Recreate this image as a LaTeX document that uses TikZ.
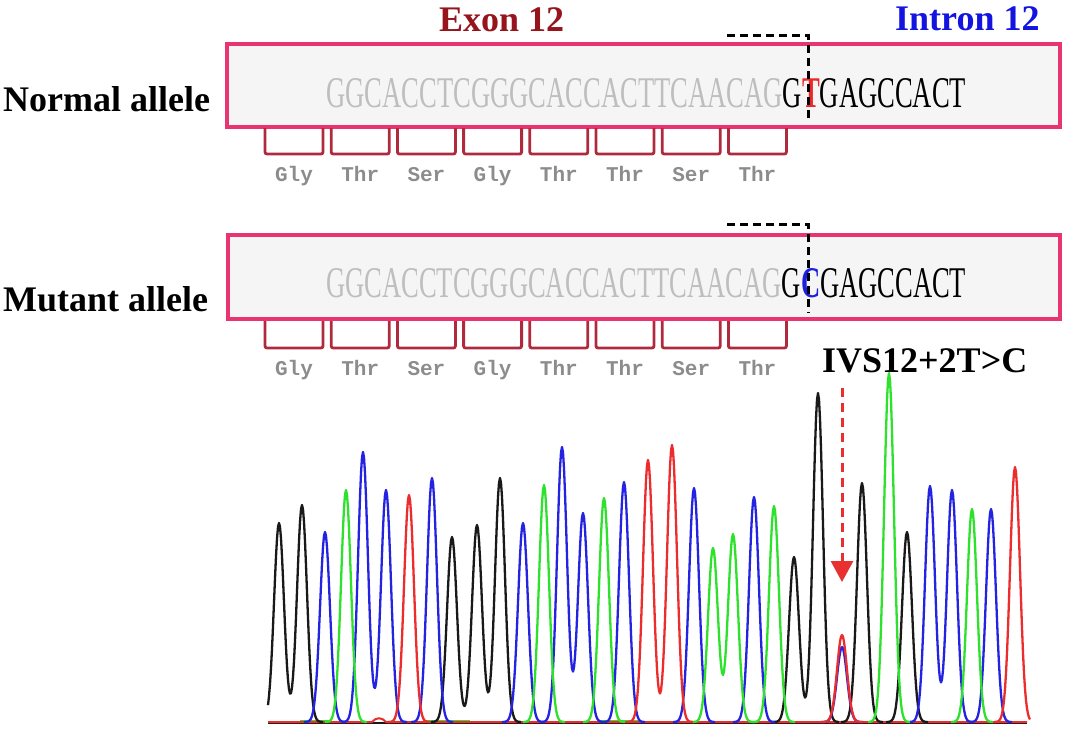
\documentclass[tikz,border=0pt]{standalone}
\usepackage{fontspec}
\setmainfont{Liberation Serif}
\newfontfamily\monof{Liberation Mono}
\usetikzlibrary{arrows.meta}
\definecolor{boxpink}{RGB}{232,52,112}
\definecolor{boxfill}{RGB}{245,245,245}
\definecolor{brk}{RGB}{176,42,62}
\definecolor{exonred}{RGB}{150,20,28}
\definecolor{intronblue}{RGB}{20,20,225}
\definecolor{seqgray}{RGB}{190,190,190}
\definecolor{aagray}{RGB}{140,140,140}
\definecolor{mutred}{RGB}{235,40,40}
\definecolor{mutblue}{RGB}{30,30,225}
\definecolor{tblack}{RGB}{25,25,25}
\definecolor{tblue}{RGB}{35,35,225}
\definecolor{tgreen}{RGB}{45,225,45}
\definecolor{tred}{RGB}{235,45,45}
\definecolor{arrred}{RGB}{232,48,48}
\begin{document}
\begin{tikzpicture}[x=1pt,y=-1pt,
  declare function={pk(\t,\c,\h)=\h*exp(-min(((\t-\c)/7)*((\t-\c)/7),9));},
  title/.style={font=\fontsize{36}{36}\selectfont\bfseries, inner sep=0pt, anchor=base west},
  allelebox/.style={draw=boxpink, line width=3.2pt, fill=boxfill, inner sep=0pt},
  seqtext/.style={inner sep=0pt, anchor=base west, text=black, font=\fontsize{40}{40}\selectfont},
  splitline/.style={draw=black, line width=3pt, dash pattern=on 8pt off 5pt},
  codon/.style={draw=brk, line width=2.8pt, rounded corners=2pt},
  aa/.style={inner sep=0pt, anchor=base, text=aagray, font=\monof\bfseries\fontsize{21}{21}\selectfont},
  trace/.style={line width=2.3pt, line join=round},
]
\useasboundingbox (0,0) rectangle (1065,731);

% titles
\node[title, text=exonred] (exon) at (439,31) {Exon 12};
\node[title, text=intronblue] (intron) at (895,30) {Intron 12};
\node[title] (normal) at (3,111) {Normal allele};
\node[title] (mutant) at (3,311) {Mutant allele};
\node[title] (ivs) at (822,372) {IVS12+2T>C};

% allele boxes
\node[allelebox, minimum width=833pt, minimum height=83pt] (box1) at (643.5,85.5) {};
\node[allelebox, minimum width=832pt, minimum height=84pt] (box2) at (644,277) {};

\node[seqtext] (seq1) at (326,107) {\resizebox{640pt}{29pt}{{\color{seqgray}GGCACCTCGGGCACCACTTCAACAG}G{\color{mutred}\bfseries T}GAGCCACT}};
\node[seqtext] (seq2) at (326,297) {\resizebox{640pt}{29pt}{{\color{seqgray}GGCACCTCGGGCACCACTTCAACAG}G{\color{mutblue}\bfseries C}GAGCCACT}};

% splice-site markers
\coordinate (d1a) at (727,35);
\coordinate (d1b) at (808,35);
\coordinate (d1c) at (808,120);
\draw[splitline] (d1a) -- (d1b) -- (d1c);
\coordinate (d2a) at (727,224);
\coordinate (d2b) at (808,224);
\coordinate (d2c) at (808,313);
\draw[splitline] (d2a) -- (d2b) -- (d2c);

% codon brackets and amino acids
\foreach \i in {0,...,7} {
  \draw[codon] ({265+66.2*\i},128) -- ++(0,26) -- ++(58,0) -- ++(0,-26);
  \draw[codon] ({265+66.2*\i},321) -- ++(0,27) -- ++(58,0) -- ++(0,-27);
}
\foreach \a [count=\i from 0] in {Gly,Thr,Ser,Gly,Thr,Thr,Ser,Thr} {
  \node[aa] (aaN\i) at ({294+66.2*\i},181) {\a};
  \node[aa] (aaM\i) at ({294+66.2*\i},375) {\a};
}

% chromatogram baseline
\draw[tblack, line width=2pt] (268,723) -- (1027,723);
\draw[tgreen, line width=1.6pt] (300,721) -- (330,721) (425,721) -- (470,721) (600,721) -- (640,721);
\draw[tred, line width=2pt] (268,722) -- (372,722) .. controls (376,717) and (382,717) .. (386,722) -- (1027,722);

% black trace
\draw[trace, tblack] plot[domain=268:323, samples=56] (\x,{722-pk(\x,279,199)-pk(\x,302,217)});
\draw[trace, tblack] plot[domain=431:521, samples=91] (\x,{722-pk(\x,452,185)-pk(\x,477,197)-pk(\x,500,244)});
\draw[trace, tblack] plot[domain=773:839, samples=67] (\x,{722-pk(\x,794,165)-pk(\x,818,329)});
\draw[trace, tblack] plot[domain=841:883, samples=43] (\x,{722-pk(\x,862,239)});
\draw[trace, tblack] plot[domain=886:928, samples=43] (\x,{722-pk(\x,907,190)});
% blue trace
\draw[trace, tblue] plot[domain=304:346, samples=43] (\x,{722-pk(\x,325,190)});
\draw[trace, tblue] plot[domain=342:407, samples=66] (\x,{722-pk(\x,363,270)-pk(\x,386,232)});
\draw[trace, tblue] plot[domain=411:453, samples=43] (\x,{722-pk(\x,432,244)});
\draw[trace, tblue] plot[domain=502:544, samples=43] (\x,{722-pk(\x,523,199)});
\draw[trace, tblue] plot[domain=541:604, samples=64] (\x,{722-pk(\x,562,275)-pk(\x,583,209)});
\draw[trace, tblue] plot[domain=603:645, samples=43] (\x,{722-pk(\x,624,240)});
\draw[trace, tblue] plot[domain=673:715, samples=43] (\x,{722-pk(\x,694,234)});
\draw[trace, tblue] plot[domain=733:775, samples=43] (\x,{722-pk(\x,754,225)});
\draw[trace, tblue] plot[domain=821:863, samples=43] (\x,{722-pk(\x,842,75)});
\draw[trace, tblue] plot[domain=909:973, samples=65] (\x,{722-pk(\x,930,236)-pk(\x,952,232)});
\draw[trace, tblue] plot[domain=970:1012, samples=43] (\x,{722-pk(\x,991,213)});
% green trace
\draw[trace, tgreen] plot[domain=325:367, samples=43] (\x,{722-pk(\x,346,232)});
\draw[trace, tgreen] plot[domain=523:565, samples=43] (\x,{722-pk(\x,544,237)});
\draw[trace, tgreen] plot[domain=583:625, samples=43] (\x,{722-pk(\x,604,224)});
\draw[trace, tgreen] plot[domain=692:754, samples=63] (\x,{722-pk(\x,713,174)-pk(\x,733,188)});
\draw[trace, tgreen] plot[domain=753:795, samples=43] (\x,{722-pk(\x,774,216)});
\draw[trace, tgreen] plot[domain=868:910, samples=43] (\x,{722-pk(\x,889,349)});
\draw[trace, tgreen] plot[domain=951:993, samples=43] (\x,{722-pk(\x,972,213)});
% red trace
\draw[trace, tred] plot[domain=388:430, samples=43] (\x,{722-pk(\x,409,227)});
\draw[trace, tred] plot[domain=627:693, samples=67] (\x,{722-pk(\x,648,262)-pk(\x,672,277)});
\draw[trace, tred] plot[domain=821:863, samples=43] (\x,{722-pk(\x,842,87)});
\draw[trace, tred] plot[domain=994:1030, samples=37] (\x,{722-pk(\x,1015,255)});

% mutation arrow
\coordinate (arrtop) at (842,388);
\coordinate (arrtip) at (842,582);
\draw[arrred, line width=3pt, dash pattern=on 9pt off 6pt, -{Triangle[width=22pt,length=21pt]}] (arrtop) -- (arrtip);
\end{tikzpicture}
\end{document}
